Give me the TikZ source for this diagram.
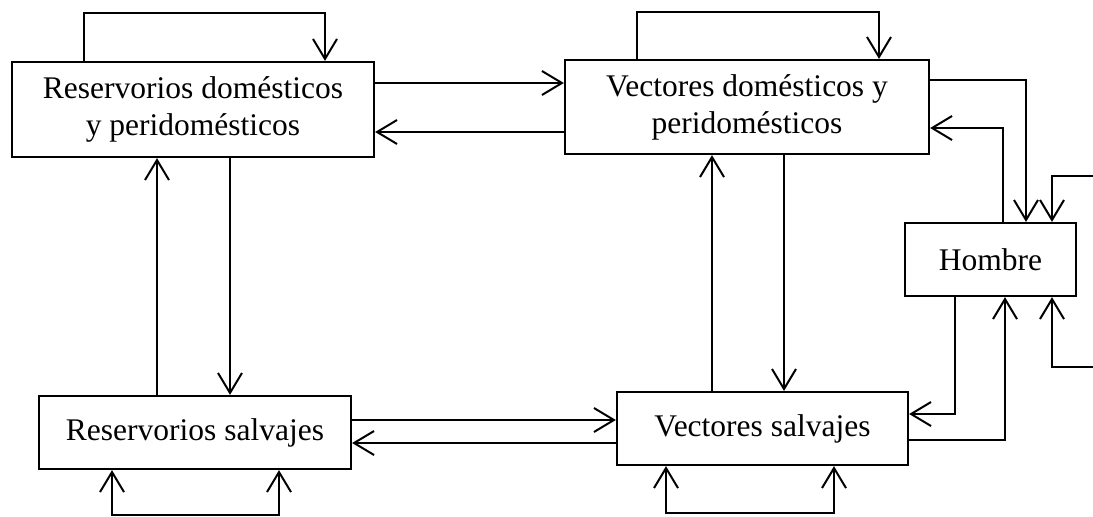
\documentclass[tikz,border=0pt]{standalone}
\usepackage{fontspec}
\setmainfont{Liberation Serif}
\usetikzlibrary{arrows.meta}
\begin{document}
\begin{tikzpicture}[x=1pt,y=-1pt,
  box/.style={draw, line width=2.2pt, inner sep=0pt, align=center, font=\fontsize{31.5}{37}\selectfont},
  conn/.style={line width=2pt},
  arr/.style={conn, -{Straight Barb[length=20pt,width=24pt,line width=2pt]}},
  barr/.style={conn, {Straight Barb[length=20pt,width=24pt,line width=2pt]}-{Straight Barb[length=20pt,width=24pt,line width=2pt]}}]
\useasboundingbox (0,0) rectangle (1093,517);
\fill[white] (0,0) rectangle (1093,517);
\node[box, minimum width=362pt, minimum height=95pt] (RD) at (193,109.5) {Reservorios domésticos\\y peridomésticos};
\node[box, minimum width=364pt, minimum height=94pt] (VD) at (747,107) {Vectores domésticos y\\peridomésticos};
\node[box, minimum width=171pt, minimum height=73pt] (H) at (990.5,259.5) {Hombre};
\node[box, minimum width=312pt, minimum height=73pt] (RS) at (195,432.5) {Reservorios salvajes};
\node[box, minimum width=291pt, minimum height=73pt] (VS) at (762.5,428.5) {Vectores salvajes};
\coordinate (e1) at (1095,176);
\coordinate (e2) at (1095,367);
% self loops
\draw[arr] (84,0 |- RD.north) -- (84,13) -- (325,13) -- (325,0 |- RD.north);
\draw[arr] (637,0 |- VD.north) -- (637,12) -- (879,12) -- (879,0 |- VD.north);
\draw[barr] (112,0 |- RS.south) -- (112,515) -- (279,515) -- (279,0 |- RS.south);
\draw[barr] (666,0 |- VS.south) -- (666,513) -- (834,513) -- (834,0 |- VS.south);
% RD <-> VD
\draw[arr] (RD.east |- 0,83) -- (VD.west |- 0,83);
\draw[arr] (VD.west |- 0,132) -- (RD.east |- 0,132);
% RD <-> RS
\draw[arr] (157,0 |- RS.north) -- (157,0 |- RD.south);
\draw[arr] (230,0 |- RD.south) -- (230,0 |- RS.north);
% RS <-> VS
\draw[arr] (RS.east |- 0,420) -- (VS.west |- 0,420);
\draw[arr] (VS.west |- 0,443) -- (RS.east |- 0,443);
% VS <-> VD
\draw[arr] (712,0 |- VS.north) -- (712,0 |- VD.south);
\draw[arr] (784,0 |- VD.south) -- (784,0 |- VS.north);
% VD <-> Hombre
\draw[arr] (VD.east |- 0,80) -| (1026,0 |- H.north);
\draw[arr] (1003,0 |- H.north) |- (VD.east |- 0,128);
\draw[arr] (e1) -| (1052,0 |- H.north);
% VS <-> Hombre
\draw[arr] (955,0 |- H.south) |- (VS.east |- 0,414);
\draw[arr] (VS.east |- 0,440) -| (1005,0 |- H.south);
\draw[arr] (e2) -| (1052,0 |- H.south);
\end{tikzpicture}
\end{document}
